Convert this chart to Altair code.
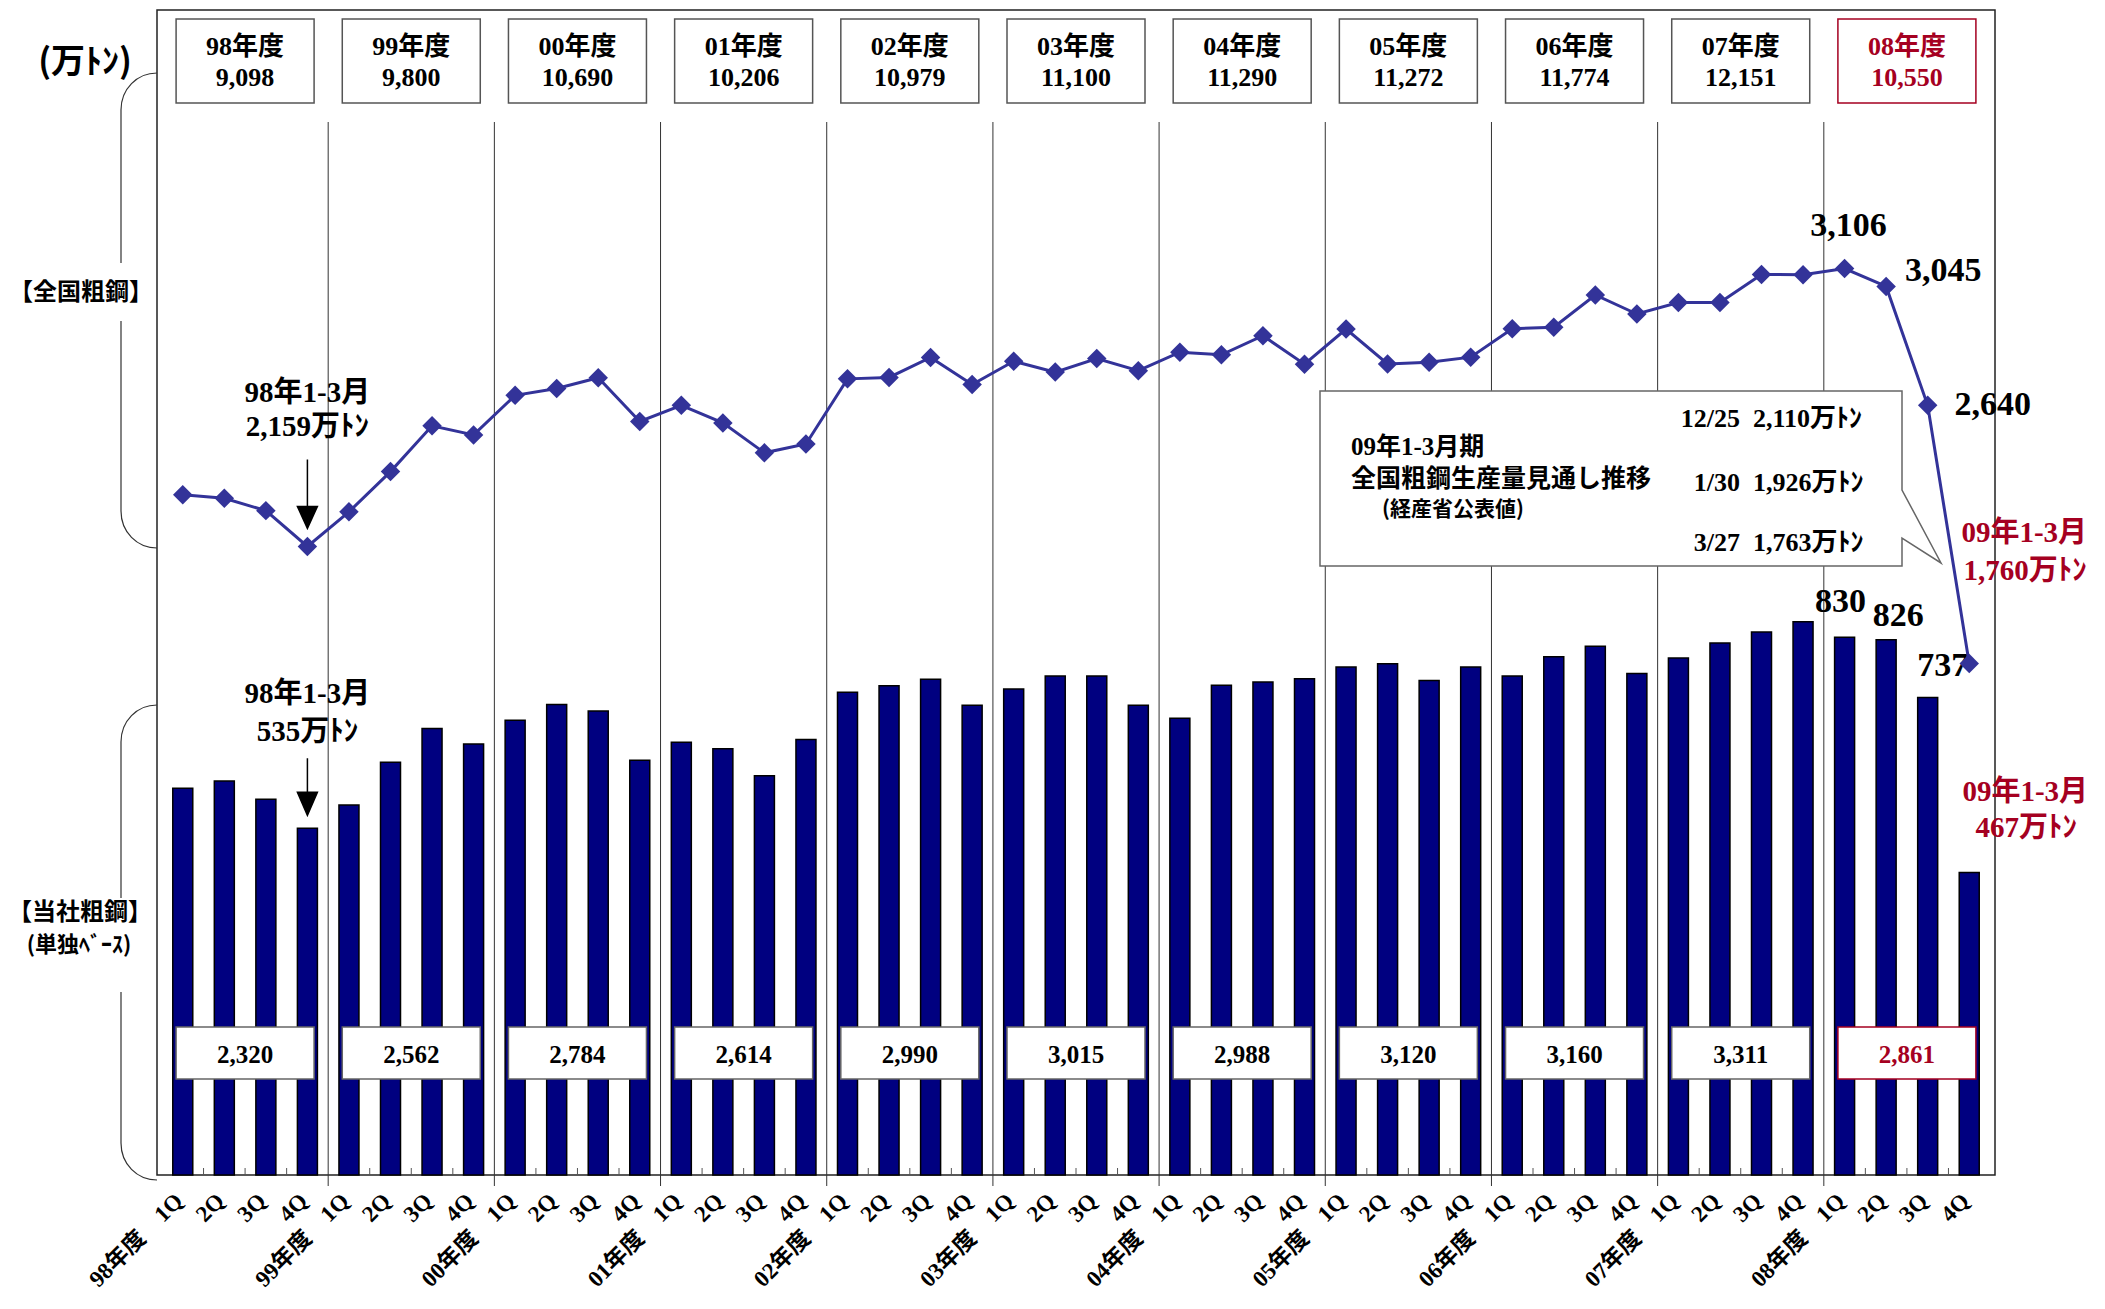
import altair as alt
import pandas as pd

# ---------------- data ----------------
years = ["98", "99", "00", "01", "02", "03", "04", "05", "06", "07", "08"]
quarters = ["1Q", "2Q", "3Q", "4Q"]
national = [2335, 2323, 2281, 2159, 2277, 2414, 2570, 2539, 2674, 2697, 2734, 2585,
            2640, 2580, 2478, 2508, 2730, 2735, 2803, 2711, 2790, 2753, 2799, 2758,
            2821, 2812, 2877, 2780, 2900, 2781, 2787, 2804, 2901, 2906, 3016, 2951,
            2990, 2990, 3086, 3085, 3106, 3045, 2640, 1760]
company = [597, 608, 580, 535, 571, 637, 689, 665, 702, 726, 716, 640,
           668, 658, 616, 672, 745, 755, 765, 725, 750, 770, 770, 725,
           705, 756, 761, 766, 784, 789, 763, 784, 770, 800, 816, 774,
           798, 821, 838, 854, 830, 826, 737, 467]
national_fy = [9098, 9800, 10690, 10206, 10979, 11100, 11290, 11272, 11774, 12151, 10550]
company_fy = [2320, 2562, 2784, 2614, 2990, 3015, 2988, 3120, 3160, 3311, 2861]
fc_dates = ["12/25", "1/30", "3/27"]
fc_values = [2110, 1926, 1763]

# ---------------- style ----------------
RED = "#A50021"
NAVY = "#000080"
LINE = "#333399"
FONT = "'Liberation Serif', 'Noto Sans CJK JP'"
JP = "'Noto Sans CJK JP'"
W, H = 1838, 1165

n = len(national)
idx = list(range(n))
q_labels = [(f"{years[i // 4]}年度\u00a0\u00a0\u00a0\u00a01Q" if i % 4 == 0 else quarters[i % 4]) for i in idx]

df = pd.DataFrame({"idx": idx, "national": national, "company": company,
                   "year": [years[i // 4] for i in idx]})
fy = pd.DataFrame({"year": years, "national_fy": national_fy, "company_fy": company_fy})
fy["center"] = [4 * i + 1.5 for i in range(len(years))]
fy["label"] = [y + "年度" for y in years]
bounds = pd.DataFrame({"b": [4 * i - 0.5 for i in range(1, len(years))]})
qticks_df = pd.DataFrame({"b": [k + 0.5 for k in range(n - 1) if (k + 1) % 4 != 0]})
one = pd.DataFrame({"a": [0]})

label_expr = "[" + ",".join("'" + s + "'" for s in q_labels) + "][datum.value]"
x_axis = alt.Axis(values=idx, labelExpr=label_expr, ticks=False, domain=False, grid=False,
                  labelAngle=315, labelAlign="right", labelBaseline="middle",
                  labelPadding=22, labelOffset=-4, labelFont=FONT, labelFontSize=23,
                  labelFontWeight="bold", labelColor="black", labelOverlap=False,
                  labelFlush=False, title=None)
xscale = alt.Scale(domain=[-0.5, n - 0.5], nice=False, zero=False)


def X(f):
    return alt.X(f"{f}:Q", scale=xscale, axis=x_axis)


def YC():
    return alt.Y("company:Q", scale=alt.Scale(domain=[0, 1798], nice=False, zero=True), axis=None)


def YN():
    return alt.Y("national:Q", scale=alt.Scale(domain=[17, 3987], nice=False, zero=False), axis=None)


def is_red():
    return alt.datum.year == "08"


# ---------------- separators / ticks ----------------
sep = alt.Chart(bounds).mark_rule(color="#333", strokeWidth=1).encode(
    x=X("b"), y=alt.value(112), y2=alt.value(1176))
qt = alt.Chart(qticks_df).mark_rule(color="#555", strokeWidth=1).encode(
    x=X("b"), y=alt.value(1158), y2=alt.value(1165))

# ---------------- company bars ----------------
base_c = alt.Chart(df)
bars = base_c.mark_bar(size=20, color=NAVY, stroke="black", strokeWidth=1.5, orient="vertical").encode(
    x=X("idx"), y=YC())


def ctext(filter_idx, dx, dy, size=34, color="black", text=None, calc=None):
    ch = base_c.transform_filter(alt.datum.idx == filter_idx)
    if calc is not None:
        ch = ch.transform_calculate(t=calc)
        enc_text = alt.Text("t:N")
    elif text is not None:
        enc_text = alt.value(text)
    else:
        enc_text = alt.Text("company:Q", format=",")
    return ch.mark_text(font=FONT, fontSize=size, fontWeight="bold", color=color,
                        align="center", baseline="middle", dx=dx, dy=dy).encode(
        x=X("idx"), y=YC(), text=enc_text)


co_arrow = base_c.transform_filter(alt.datum.idx == 3).mark_point(
    shape="M0,-70V-36M-10,-36H10L0,-13Z", size=4, filled=True, color="black",
    stroke="black", strokeWidth=1.5, opacity=1).encode(x=X("idx"), y=YC())

co_layer = alt.layer(
    bars,
    ctext(40, -4, -35), ctext(41, 12, -24), ctext(42, 15, -31),
    ctext(43, 56, -80, 29, RED, text="09年1-3月"),
    ctext(43, 57, -44, 29, RED, calc="format(datum.company, ',') + '万ﾄﾝ'"),
    ctext(3, 0, -134, 29, text="98年1-3月"),
    ctext(3, 0, -96, 29, calc="format(datum.company, ',') + '万ﾄﾝ'"),
    co_arrow,
)

# ---------------- national line ----------------
base_n = alt.Chart(df)
line = base_n.mark_line(color=LINE, strokeWidth=3).encode(x=X("idx"), y=YN())
pts = base_n.mark_point(shape="diamond", filled=True, size=380, color=LINE, opacity=1).encode(
    x=X("idx"), y=YN())


def ntext(filter_idx, dx, dy, size=34, color="black", text=None, calc=None):
    ch = base_n.transform_filter(alt.datum.idx == filter_idx)
    if calc is not None:
        ch = ch.transform_calculate(t=calc)
        enc_text = alt.Text("t:N")
    elif text is not None:
        enc_text = alt.value(text)
    else:
        enc_text = alt.Text("national:Q", format=",")
    return ch.mark_text(font=FONT, fontSize=size, fontWeight="bold", color=color,
                        align="center", baseline="middle", dx=dx, dy=dy).encode(
        x=X("idx"), y=YN(), text=enc_text)


n_arrow = base_n.transform_filter(alt.datum.idx == 3).mark_point(
    shape="M0,-87V-40M-10,-40H10L0,-18Z", size=4, filled=True, color="black",
    stroke="black", strokeWidth=1.5, opacity=1).encode(x=X("idx"), y=YN())

nat_layer = alt.layer(
    line, pts,
    ntext(40, 4, -43), ntext(41, 57, -15), ntext(42, 65, 0),
    ntext(43, 55, -131, 29, RED, text="09年1-3月"),
    ntext(43, 56, -93, 29, RED, calc="format(datum.national, ',') + '万ﾄﾝ'"),
    ntext(3, 0, -153, 29, text="98年1-3月"),
    ntext(3, 0, -119, 29, calc="format(datum.national, ',') + '万ﾄﾝ'"),
    n_arrow,
)

# ---------------- yearly boxes ----------------
base_fy = alt.Chart(fy)
top_boxes = base_fy.mark_point(shape="M-69,-42H69V42H-69Z", size=4, filled=True, fill="white",
                               strokeWidth=1.5, opacity=1).encode(
    x=X("center"), y=alt.value(51),
    stroke=alt.condition(is_red(), alt.value(RED), alt.value("#555")))
top_year = base_fy.mark_text(font=FONT, fontSize=26, fontWeight="bold", align="center",
                             baseline="middle").encode(
    x=X("center"), y=alt.value(37), text="label:N",
    color=alt.condition(is_red(), alt.value(RED), alt.value("black")))
top_val = base_fy.mark_text(font=FONT, fontSize=26, fontWeight="bold", align="center",
                            baseline="middle").encode(
    x=X("center"), y=alt.value(68), text=alt.Text("national_fy:Q", format=","),
    color=alt.condition(is_red(), alt.value(RED), alt.value("black")))
bot_boxes = base_fy.mark_point(shape="M-69,-26H69V26H-69Z", size=4, filled=True, fill="white",
                               strokeWidth=1.5, opacity=1).encode(
    x=X("center"), y=alt.value(1043),
    stroke=alt.condition(is_red(), alt.value(RED), alt.value("#666")))
bot_val = base_fy.mark_text(font=FONT, fontSize=25, fontWeight="bold", align="center",
                            baseline="middle").encode(
    x=X("center"), y=alt.value(1045), text=alt.Text("company_fy:Q", format=","),
    color=alt.condition(is_red(), alt.value(RED), alt.value("black")))

# ---------------- callout ----------------
callout = alt.Chart(one).mark_point(
    shape="M0,0H582V99L621,172L582,147V175H0Z", size=4, filled=True, fill="white",
    stroke="#666", strokeWidth=1.5, opacity=1).encode(x=alt.value(1163), y=alt.value(381))


def free_text(txt, x, y, size, font=FONT, align="center", color="black"):
    return alt.Chart(one).mark_text(font=font, fontSize=size, fontWeight="bold", align=align,
                                    baseline="middle", color=color).encode(
        x=alt.value(x), y=alt.value(y), text=alt.value(txt))


callout_texts = [
    free_text("09年1-3月期", 1194, 437, 25, align="left"),
    free_text("全国粗鋼生産量見通し推移", 1194, 469, 25, font=JP, align="left"),
    free_text("(経産省公表値)", 1225, 500, 21, font=JP, align="left"),
]
for d, v, yp in zip(fc_dates, fc_values, [409, 473, 533]):
    callout_texts.append(free_text(d, 1583, yp, 26, align="right"))
    callout_texts.append(free_text(f"{v:,}万ﾄﾝ", 1596, yp, 26, align="left"))

# ---------------- left side ----------------
left_texts = [
    free_text("(万ﾄﾝ)", -72, 53, 34, font=JP),
    free_text("【全国粗鋼】", -76, 283, 24, font=JP),
    free_text("【当社粗鋼】", -77, 903, 24, font=JP),
    free_text("(単独ﾍﾞｰｽ)", -78, 935, 22, font=JP),
]
brace1 = alt.Chart(one).mark_point(
    shape="M0,0C-20,0-36,16-36,37V190M-36,248V438C-36,459-20,475 0,475",
    size=4, filled=False, color="#333", strokeWidth=1.2, opacity=1).encode(
    x=alt.value(0), y=alt.value(63))
brace2 = alt.Chart(one).mark_point(
    shape="M0,0C-20,0-36,16-36,37V193M-36,287V438C-36,459-20,475 0,475",
    size=4, filled=False, color="#333", strokeWidth=1.2, opacity=1).encode(
    x=alt.value(0), y=alt.value(695))

chart = alt.layer(
    sep, qt, co_layer, bot_boxes, bot_val, nat_layer,
    top_boxes, top_year, top_val, callout, *callout_texts, *left_texts, brace1, brace2,
).resolve_scale(y="independent").properties(
    width=W, height=H,
    padding={"left": 149, "top": 2, "right": 100, "bottom": 118},
    autosize=alt.AutoSizeParams(type="none"),
).configure_view(stroke="#222", strokeWidth=1.5)

chart.save("out.html", embed_options={"renderer": "svg", "actions": False})
